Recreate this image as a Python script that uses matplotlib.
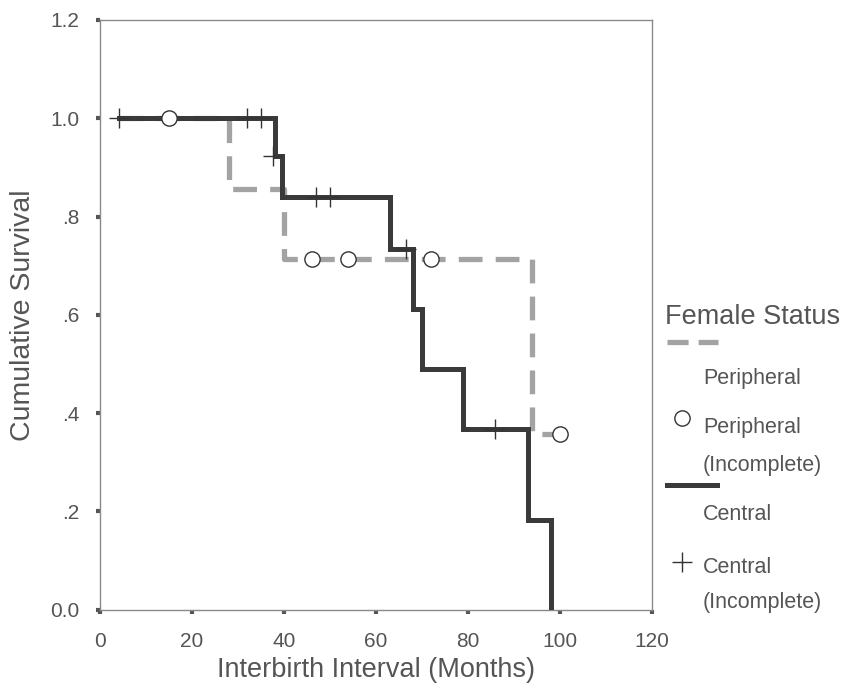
import matplotlib.pyplot as plt
from matplotlib.lines import Line2D

plt.rcParams['font.family'] = ['Liberation Sans', 'DejaVu Sans']

# Kaplan-Meier steps: time (months) where survival changes, survival after it
peripheral_t = [4, 28, 40, 94, 100]
peripheral_s = [1.0, 0.857, 0.714, 0.357, 0.357]
central_t = [4, 38, 39.5, 63, 68, 70, 79, 93, 98]
central_s = [1.0, 0.923, 0.839, 0.734, 0.612, 0.489, 0.367, 0.183, 0.0]

# censored (incomplete) intervals
peripheral_cens_t = [15, 46, 54, 72, 100]
peripheral_cens_s = [1.0, 0.714, 0.714, 0.714, 0.357]
central_cens_t = [4, 32, 35, 37.5, 47, 50, 66.5, 86]
central_cens_s = [1.0, 1.0, 1.0, 0.923, 0.839, 0.839, 0.734, 0.367]

xticks = [0, 20, 40, 60, 80, 100, 120]
yticks = [0.0, 0.2, 0.4, 0.6, 0.8, 1.0, 1.2]
ytick_labels = ['0.0', '.2', '.4', '.6', '.8', '1.0', '1.2']

dark = '#3a3a3a'
light = '#a3a3a3'
text_col = '#555555'
spine_col = '#8a8a8a'

fig = plt.figure(figsize=(8.42, 6.89), dpi=100)
ax = fig.add_axes([0.119, 0.115, 0.655, 0.856])

ax.plot(peripheral_t, peripheral_s, drawstyle='steps-post', color=light,
        lw=3.8, dashes=(4.5, 2.5), solid_capstyle='butt', zorder=2)
ax.plot(central_t, central_s, drawstyle='steps-post', color=dark,
        lw=3.6, solid_joinstyle='miter', zorder=3)
ax.plot(peripheral_cens_t, peripheral_cens_s, ls='none', marker='o',
        ms=11, mfc='white', mec='#333333', mew=1.0, zorder=4)
ax.plot(central_cens_t, central_cens_s, ls='none', marker='+',
        ms=14, mec='#333333', mew=1.0, zorder=4)

ax.set_xlim(0, 120)
ax.set_ylim(0, 1.2)
ax.set_xticks(xticks)
ax.set_yticks(yticks)
ax.set_yticklabels(ytick_labels)
ax.tick_params(direction='out', length=3, width=3, color='#555555',
               labelcolor=text_col, labelsize=15)
ax.tick_params(axis='x', pad=13)
ax.tick_params(axis='y', pad=12)
for sp in ax.spines.values():
    sp.set_color(spine_col)
    sp.set_linewidth(1.0)

ax.set_xlabel('Interbirth Interval (Months)', fontsize=19.5, color=text_col, labelpad=4)
ax.set_ylabel('Cumulative Survival', fontsize=20.5, color=text_col, labelpad=10)

# legend drawn beside the axes
leg_txt = dict(fontsize=15.5, color=text_col, va='center')
fig.text(0.790, 0.540, 'Female Status', fontsize=19.5, color=text_col, va='center')
fig.add_artist(Line2D([0.792, 0.853], [0.503, 0.503], color=light, lw=3.8,
                      dashes=(4, 1.9), transform=fig.transFigure))
fig.text(0.835, 0.451, 'Peripheral', **leg_txt)
fig.add_artist(Line2D([0.810], [0.393], marker='o', ms=11, mfc='white',
                      mec='#333333', mew=1.0, transform=fig.transFigure))
fig.text(0.835, 0.379, 'Peripheral', **leg_txt)
fig.text(0.835, 0.324, '(Incomplete)', **leg_txt)
fig.add_artist(Line2D([0.792, 0.852], [0.296, 0.296], color=dark, lw=3.6,
                      transform=fig.transFigure))
fig.text(0.835, 0.253, 'Central', **leg_txt)
fig.add_artist(Line2D([0.810], [0.184], marker='+', ms=14, mec='#333333',
                      mew=1.0, transform=fig.transFigure))
fig.text(0.835, 0.176, 'Central', **leg_txt)
fig.text(0.835, 0.125, '(Incomplete)', **leg_txt)

fig.savefig('out.png', dpi=100)
